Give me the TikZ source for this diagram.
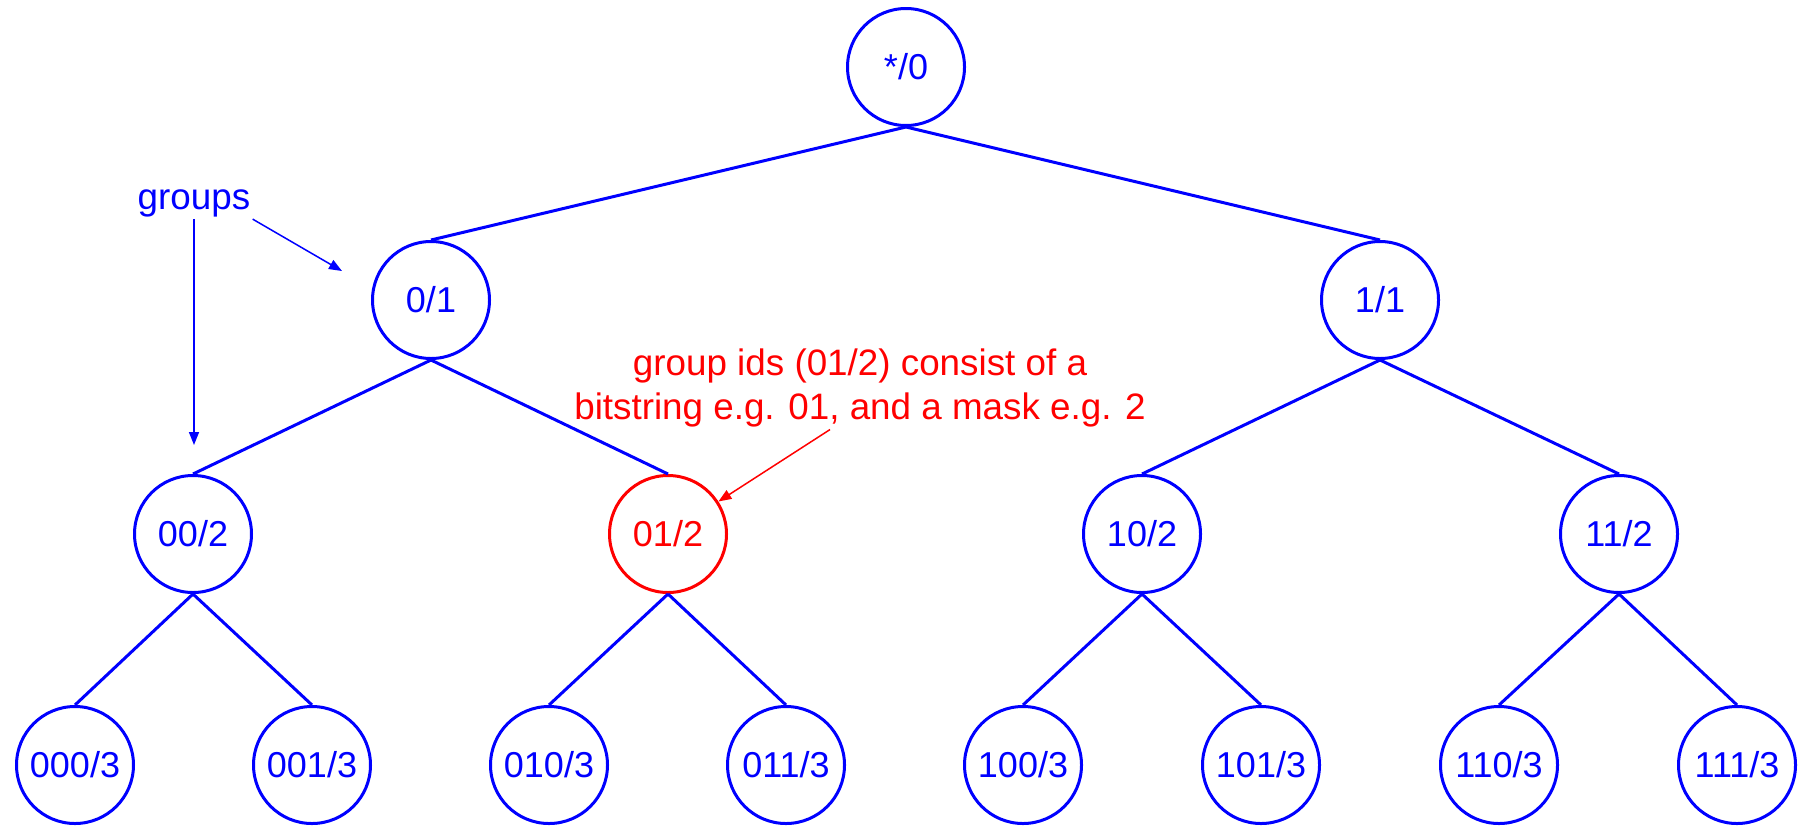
\documentclass[tikz,border=0pt]{standalone}
\usepackage{fontspec}
\setmainfont{Liberation Sans}
\usetikzlibrary{positioning, arrows.meta}

\begin{document}
\begin{tikzpicture}[x=0.5pt, y=-0.5pt,
    grp/.style={circle, draw=blue, text=blue, line width=1.5pt,
      minimum size=58.5pt, inner sep=0pt, font=\fontsize{18}{21}\selectfont},
    edge/.style={line width=1.5pt, blue},
    pointer/.style={line width=0.75pt, -{Triangle[length=6.5pt, width=5pt]}}]
  \useasboundingbox (0,0) rectangle (1803,825);

  % tree of groups
  \node[grp] (r) at (906,67) {*/0};

  \node[grp] (g0) at (431,300) {0/1};
  \node[grp] (g1) at (1380,300) {1/1};

  \node[grp] (g00) at (193,534) {00/2};
  \node[grp, draw=red, text=red] (g01) at (668,534) {01/2};
  \node[grp] (g10) at (1142,534) {10/2};
  \node[grp] (g11) at (1619,534) {11/2};

  \node[grp] (g000) at (75,765) {000/3};
  \node[grp] (g001) at (312,765) {001/3};
  \node[grp] (g010) at (549,765) {010/3};
  \node[grp] (g011) at (786,765) {011/3};
  \node[grp] (g100) at (1023,765) {100/3};
  \node[grp] (g101) at (1261,765) {101/3};
  \node[grp] (g110) at (1499,765) {110/3};
  \node[grp] (g111) at (1737,765) {111/3};

  \draw[edge] (r.south) -- (g0.north);
  \draw[edge] (r.south) -- (g1.north);
  \draw[edge] (g0.south) -- (g00.north);
  \draw[edge] (g0.south) -- (g01.north);
  \draw[edge] (g1.south) -- (g10.north);
  \draw[edge] (g1.south) -- (g11.north);
  \draw[edge] (g00.south) -- (g000.north);
  \draw[edge] (g00.south) -- (g001.north);
  \draw[edge] (g01.south) -- (g010.north);
  \draw[edge] (g01.south) -- (g011.north);
  \draw[edge] (g10.south) -- (g100.north);
  \draw[edge] (g10.south) -- (g101.north);
  \draw[edge] (g11.south) -- (g110.north);
  \draw[edge] (g11.south) -- (g111.north);

  % labels
  \node[text=blue, inner sep=1pt, font=\fontsize{18.4}{22}\selectfont] (groups) at (194,203) {groups};
  \coordinate (tipa) at (342,271);
  \coordinate (tipb) at (194,445);
  \draw[pointer, blue] (groups.south east) -- (tipa);
  \draw[pointer, blue] (groups.south) -- (tipb);

  \node[text=red, align=center, inner sep=1pt,
        font=\fontsize{18.4}{22}\selectfont] (idnote) at (860,388)
        {group ids (01/2) consist of a\\bitstring e.g. 01, and a mask e.g. 2};
  \draw[pointer, red] ([xshift=-15pt]idnote.south) -- (g01);
\end{tikzpicture}
\end{document}
